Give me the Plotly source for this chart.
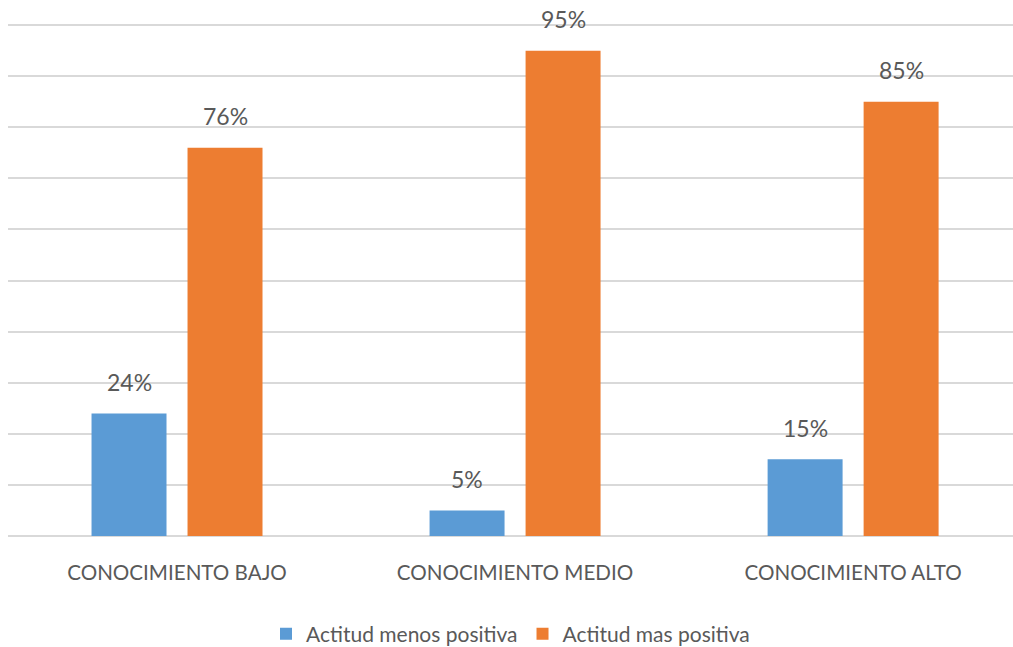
import plotly.graph_objects as go

categories = ["CONOCIMIENTO BAJO", "CONOCIMIENTO MEDIO", "CONOCIMIENTO ALTO"]
menos_positiva = [24, 5, 15]
mas_positiva = [76, 95, 85]
series_names = ["Actitud menos positiva", "Actitud mas positiva"]
colors = ["#5B9BD5", "#ED7D31"]

FONT = "Lato, sans-serif"
TXT = "#595959"
KY = 1.0124  # vertical compensation for capture scaling

fig = go.Figure()
for name, vals, col in zip(series_names, [menos_positiva, mas_positiva], colors):
    fig.add_trace(go.Bar(name=name, x=categories, y=vals, marker=dict(color=col, line=dict(width=0)),
                         hoverinfo="skip"))

annotations = []
for vals, shift in zip([menos_positiva, mas_positiva], [-48, 48]):
    for c, v in zip(categories, vals):
        annotations.append(dict(x=c, y=v, text=f"{v}%", showarrow=False, xshift=shift, yshift=31 * KY,
                                yanchor="middle", font=dict(family=FONT, size=23, color=TXT)))

fig.update_layout(
    width=1013, height=round(647 * KY),
    margin=dict(l=8, r=0, t=20 * KY, b=114 * KY),
    paper_bgcolor="white", plot_bgcolor="white",
    barmode="group", bargap=0.432, bargroupgap=0.219,
    annotations=annotations,
    showlegend=True,
    legend=dict(orientation="h", x=0.5, xanchor="center", y=-0.19, yanchor="middle",
                font=dict(family=FONT, size=21, color=TXT), itemwidth=30, tracegroupgap=0),
    font=dict(family=FONT, color=TXT),
)
fig.update_xaxes(range=[-0.5, 2.473], showgrid=False, showline=False, ticks="",
                 tickfont=dict(family=FONT, size=20.6, color=TXT), ticklabelstandoff=22)
fig.update_yaxes(range=[0, 101.0], dtick=10, showgrid=True, gridcolor="#D9D9D9", gridwidth=1.5,
                 zeroline=True, zerolinecolor="#D9D9D9", zerolinewidth=1.5,
                 showticklabels=False, ticks="")

fig.write_html(
    "out.html",
    config={"displayModeBar": False},
    post_script=(
        "document.documentElement.style.overflow='hidden';"
        "document.body.style.margin='0';document.body.style.overflow='hidden';"
    ),
)
